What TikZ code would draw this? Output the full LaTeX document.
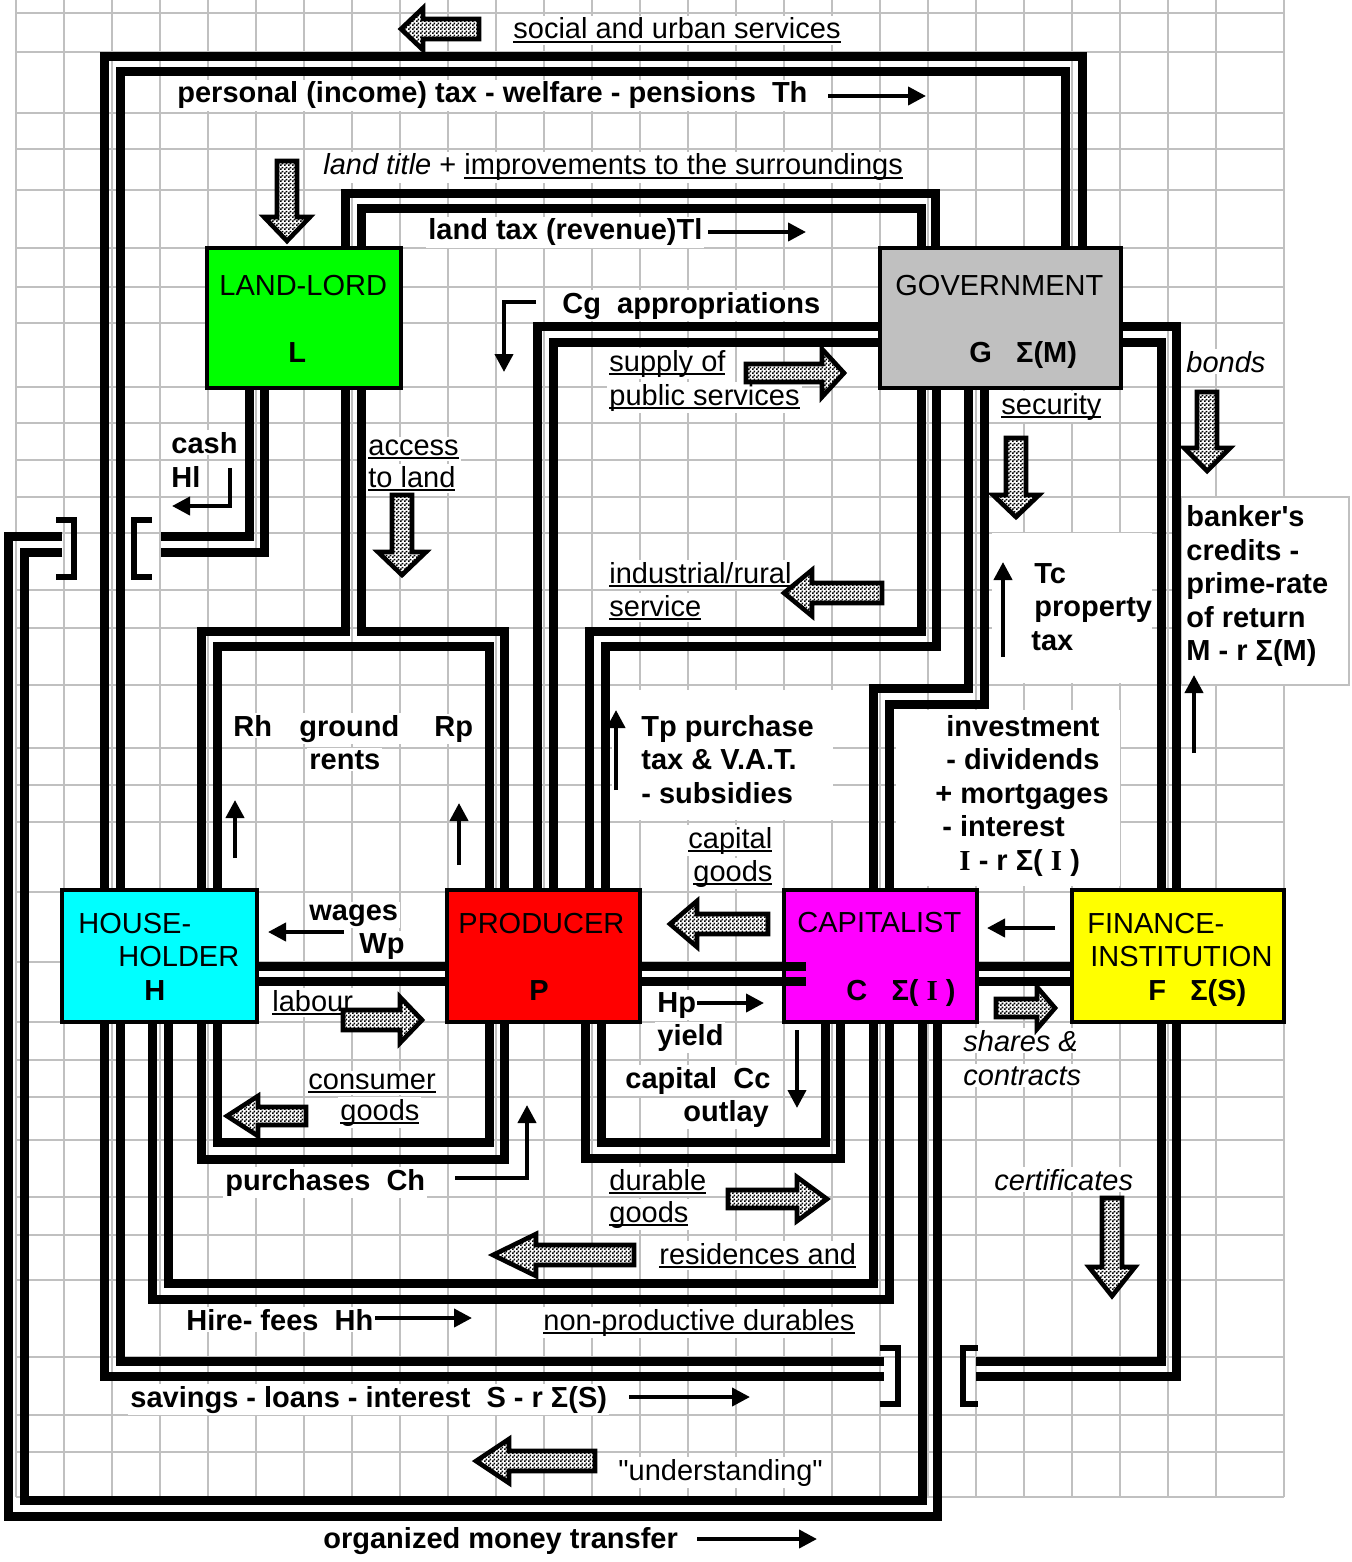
\documentclass[tikz,border=0pt]{standalone}
\usepackage{fontspec}
\setmainfont{Liberation Sans}
\newfontfamily\rawsans{Liberation Sans}
\newfontfamily\tnr{Liberation Serif}
\usetikzlibrary{arrows.meta,patterns,fit}
\newcommand\uline[1]{\setbox0\hbox{#1}\rlap{\rule[-2pt]{\wd0}{1pt}}\box0}
\definecolor{gridc}{RGB}{192,192,192}
\definecolor{cgreen}{RGB}{0,255,0}
\definecolor{cgray}{RGB}{192,192,192}
\definecolor{ccyan}{RGB}{0,255,255}
\definecolor{cred}{RGB}{255,0,0}
\definecolor{cmag}{RGB}{255,0,255}
\definecolor{cyel}{RGB}{255,255,0}
\pgfdeclarepatternformonly{finecheck}{\pgfqpoint{0pt}{0pt}}{\pgfqpoint{2pt}{2pt}}{\pgfqpoint{2pt}{2pt}}{%
 \pgfpathrectangle{\pgfqpoint{0pt}{0pt}}{\pgfqpoint{1pt}{1pt}}%
 \pgfpathrectangle{\pgfqpoint{1pt}{1pt}}{\pgfqpoint{1pt}{1pt}}%
 \pgfusepath{fill}}
\newcommand\fs{\fontsize{14.5}{16.9}\selectfont}
\begin{document}
\begin{tikzpicture}[x=0.5pt,y=-0.5pt,
 lbl/.style={anchor=base west, inner sep=1pt, fill=white, font=\fs},
 lblb/.style={lbl, font=\fs\bfseries},
 btx/.style={anchor=base west, inner sep=0pt, font=\fs},
 btxb/.style={btx, font=\fs\bfseries},
 chan/.style={line width=4.5pt, line join=miter},
 brk/.style={line width=3pt, line join=miter},
 box/.style={draw, line width=2pt, inner sep=0pt, outer sep=0pt},
 thin/.style={line width=2pt, line join=miter, -{Triangle[length=9pt,width=9pt]}},
 gridl/.style={draw=gridc, line width=1pt},
 barrowstyle/.style={draw, line width=2.3pt, line join=miter, preaction={fill=white}, pattern=finecheck},
 pics/barrow/.style n args={4}{code={\path[barrowstyle] (-#1,-#2) -- (-#3,-#2) -- (-#3,-#4) -- (0,0) -- (-#3,#4) -- (-#3,#2) -- (-#1,#2) -- cycle;}}
]
\useasboundingbox (0,0) rectangle (1351,1562);
\fill[white] (0,0) rectangle (1351,1562);
% grid
\foreach \yy in {13,52,113,149,190,248,287,323,387,423,460,497,533,590,628,685,748,785,822,892,962,1022,1060,1097,1140,1197,1235,1280,1357,1415,1452,1497}
  \path[gridl] (16,\yy) -- (1284,\yy);
\foreach \k in {0,...,25}
  \path[gridl] ({16+48*\k},0) -- ({16+48*\k},1497);
\path[gridl] (1284,0) -- (1284,1497);
% white text areas
\fill[white] (992,533) rectangle (1152,683);
\fill[white] (896,710) rectangle (1120,886);
\fill[white] (612,690) rectangle (833,820);
\node[draw=gridc, fill=white, line width=1pt, inner sep=0pt, outer sep=0pt, fit={(1181,497) (1349,685)}] (bankbox) {};

% boxes
\node[box, fill=cgreen, fit={(207,248) (401,388)}] (L) {};
\node[box, fill=cgray, fit={(880,248) (1121,388)}] (G) {};
\node[box, fill=ccyan, fit={(62,890) (257,1022)}] (H) {};
\node[box, fill=cred, fit={(447,890) (640,1022)}] (P) {};
\node[box, fill=cmag, fit={(784,890) (977,1022)}] (C) {};
\node[box, fill=cyel, fit={(1072,890) (1284,1022)}] (F) {};

% box texts
\node[btx] (Lt1) at (219,295) {LAND-LORD};
\node[btxb] (Lt2) at (288,362) {L};
\node[btx] (Gt1) at (895,295) {GOVERNMENT};
\node[btxb] (Gt2) at (969,362) {G~~~Σ(M)};
\node[btx] (Ht1) at (78,933) {HOUSE-};
\node[btx] (Ht2) at (118,966) {HOLDER};
\node[btxb] (Ht3) at (144,1000) {H};
\node[btx] (Pt1) at (458,933) {PRODUCER};
\node[btxb] (Pt2) at (529,1000) {P};
\node[btx] (Ct1) at (797,932) {CAPITALIST};
\node[btxb] (Ct2) at (846,1000) {C~~~Σ( {\tnr I} )};
\node[btx] (Ft1) at (1087,933) {FINANCE-};
\node[btx] (Ft2) at (1090,966) {INSTITUTION};
\node[btxb] (Ft3) at (1148,1000) {F~~~Σ(S)};

% labels
\node[lbl] (t1) at (511,39) {\uline{social and urban services}};
\node[lblb] (t2) at (175,103) {personal (income) tax - welfare - pensions~~Th};
\node[lbl] (t3) at (321,175) {\textit{land title} + \uline{improvements to the surroundings}};
\node[lblb] (t4) at (426,240) {land tax (revenue)Tl};
\node[lblb] (t5) at (560,313) {Cg~~appropriations};
\node[lbl] (t6) at (607,371) {\uline{supply of}};
\node[lbl] (t7) at (607,405) {\uline{public services}};
\node[lbl] (t8) at (999,414) {\uline{security}};
\node[lbl] (t9) at (1184,372) {\textit{bonds}};
\node[lblb] (t10) at (169,453) {cash};
\node[lblb] (t11) at (169,487) {Hl};
\node[lbl] (t12) at (366,455) {\uline{access}};
\node[lbl] (t13) at (366,487) {\uline{to land}};
\node[lbl] (t14) at (607,583) {\uline{industrial/rural}};
\node[lbl] (t15) at (607,616) {\uline{service}};
\node[lblb] (t16) at (1032,583) {Tc};
\node[lblb] (t17) at (1032,616) {property};
\node[lblb] (t18) at (1029,650) {tax};
\node[lblb] (t19) at (1184,526) {\rawsans\bfseries banker's};
\node[lblb] (t20) at (1184,560) {credits -};
\node[lblb] (t21) at (1184,593) {prime-rate};
\node[lblb] (t22) at (1184,627) {of return};
\node[lblb] (t23) at (1184,660) {M - r Σ(M)};
\node[lblb] (t24) at (231,736) {Rh};
\node[lblb] (t25) at (297,736) {ground};
\node[lblb] (t26) at (307,769) {rents};
\node[lblb] (t27) at (432,736) {Rp};
\node[lblb] (t28) at (639,736) {Tp purchase};
\node[lblb] (t29) at (639,769) {tax \& V.A.T.};
\node[lblb] (t30) at (639,803) {- subsidies};
\node[lblb] (t31) at (944,736) {investment};
\node[lblb] (t32) at (944,769) {- dividends};
\node[lblb] (t33) at (933,803) {+ mortgages};
\node[lblb] (t34) at (940,836) {- interest};
\node[lblb] (t35) at (957,870) {{\tnr I} - r Σ( {\tnr I} )};
\node[lbl] (t36) at (686,848) {\uline{capital}};
\node[lbl] (t37) at (691,881) {\uline{goods}};
\node[lblb] (t38) at (307,920) {wages};
\node[lblb] (t39) at (357,953) {Wp};
\node[lbl] (t40) at (270,1011) {\uline{labour}};
\node[lblb] (t41) at (655,1012) {Hp};
\node[lblb] (t42) at (655,1045) {yield};
\node[lblb] (t43) at (623,1088) {capital~~Cc};
\node[lblb] (t44) at (681,1121) {outlay};
\node[lbl] (t45) at (961,1051) {\textit{shares \&}};
\node[lbl] (t46) at (961,1085) {\textit{contracts}};
\node[lbl] (t47) at (306,1089) {\uline{consumer}};
\node[lbl] (t48) at (338,1120) {\uline{goods}};
\node[lblb] (t49) at (223,1190) {purchases~~Ch};
\node[lbl] (t50) at (607,1190) {\uline{durable}};
\node[lbl] (t51) at (607,1222) {\uline{goods}};
\node[lbl] (t52) at (992,1190) {\textit{certificates}};
\node[lbl] (t53) at (657,1264) {\uline{residences and}};
\node[lblb] (t54) at (184,1330) {Hire- fees~~Hh};
\node[lbl] (t55) at (541,1330) {\uline{non-productive durables}};
\node[lblb] (t56) at (128,1407) {savings - loans - interest~~S - r Σ(S)};
\node[lbl] (t57) at (616,1480) {\rawsans "understanding"};
\node[lblb] (t58) at (321,1548) {organized money transfer};

% free ends
\coordinate (mtA) at (62,536);
\coordinate (mtB) at (62,552);
\coordinate (cashA) at (161,536);
\coordinate (cashB) at (161,552);
\coordinate (svA) at (884,1376);
\coordinate (svB) at (884,1361);
\coordinate (svC) at (976,1361);
\coordinate (svD) at (976,1376);

% channels
\draw[chan] (H.north -| 104,0) -- (104,57) -- (1082,57) -- (G.north -| 1082,0);
\draw[chan] (H.north -| 120,0) -- (120,72) -- (1065,72) -- (G.north -| 1065,0);
\draw[chan] (L.north -| 345,0) -- (345,194) -- (935,194) -- (G.north -| 935,0);
\draw[chan] (L.north -| 361,0) -- (361,209) -- (921,209) -- (G.north -| 921,0);
\draw[chan] (G.west |- 0,326) -- (537,326) -- (P.north -| 537,0);
\draw[chan] (G.west |- 0,342) -- (553,342) -- (P.north -| 553,0);
\draw[chan] (G.south -| 921,0) -- (921,631) -- (589,631) -- (P.north -| 589,0);
\draw[chan] (G.south -| 936,0) -- (936,646) -- (605,646) -- (P.north -| 605,0);
\draw[chan] (G.south -| 968,0) -- (968,688) -- (873,688) -- (C.north -| 873,0);
\draw[chan] (G.south -| 984,0) -- (984,704) -- (889,704) -- (C.north -| 889,0);
\draw[chan] (G.east |- 0,326) -- (1176,326) -- (F.north -| 1176,0);
\draw[chan] (G.east |- 0,342) -- (1161,342) -- (F.north -| 1161,0);
\draw[chan] (H.north -| 201,0) -- (201,631) -- (345,631) -- (L.south -| 345,0);
\draw[chan] (L.south -| 361,0) -- (361,631) -- (504,631) -- (P.north -| 504,0);
\draw[chan] (H.north -| 217,0) -- (217,646) -- (489,646) -- (P.north -| 489,0);
\draw[chan] (L.south -| 249,0) -- (249,536) -- (cashA);
\draw[chan] (L.south -| 264,0) -- (264,552) -- (cashB);
\draw[chan] (mtA) -- (8,536) -- (8,1516) -- (937,1516) -- (C.south -| 937,0);
\draw[chan] (mtB) -- (24,552) -- (24,1500) -- (922,1500) -- (C.south -| 922,0);
\draw[chan] (H.south -| 104,0) -- (104,1376) -- (svA);
\draw[chan] (H.south -| 120,0) -- (120,1361) -- (svB);
\draw[chan] (svC) -- (1161,1361) -- (F.south -| 1161,0);
\draw[chan] (svD) -- (1176,1376) -- (F.south -| 1176,0);
\draw[chan] (H.south -| 152,0) -- (152,1299) -- (889,1299) -- (C.south -| 889,0);
\draw[chan] (H.south -| 168,0) -- (168,1283) -- (873,1283) -- (C.south -| 873,0);
\draw[chan] (H.south -| 201,0) -- (201,1159) -- (504,1159) -- (P.south -| 504,0);
\draw[chan] (H.south -| 217,0) -- (217,1142) -- (489,1142) -- (P.south -| 489,0);
\draw[chan] (P.south -| 585,0) -- (585,1158) -- (840,1158) -- (C.south -| 840,0);
\draw[chan] (P.south -| 601,0) -- (601,1142) -- (825,1142) -- (C.south -| 825,0);
\draw[chan] (H.east |- 0,966) -- (P.west |- 0,966);
\draw[chan] (H.east |- 0,981) -- (P.west |- 0,981);
\draw[chan] (P.east |- 0,966) -- (806,966);
\draw[chan] (P.east |- 0,981) -- (806,981);
\draw[chan] (C.east |- 0,966) -- (F.west |- 0,966);
\draw[chan] (C.east |- 0,981) -- (F.west |- 0,981);
% bridges
\draw[brk] (56,520) -- (74,520) -- (74,577) -- (56,577);
\draw[brk] (152,520) -- (134,520) -- (134,577) -- (152,577);
\draw[brk] (880,1348) -- (898,1348) -- (898,1404) -- (880,1404);
\draw[brk] (978,1348) -- (963,1348) -- (963,1404) -- (978,1404);

% thin arrows
\draw[thin] (828,96) -- (926,96);
\draw[thin] (708,232) -- (806,232);
\draw[thin] (536,302) -- (504,302) -- (504,372);
\draw[thin] (230,468) -- (230,506) -- (172,506);
\draw[thin] (235,858) -- (235,800);
\draw[thin] (459,865) -- (459,803);
\draw[thin] (616,790) -- (616,710);
\draw[thin] (1003,657) -- (1003,562);
\draw[thin] (1194,753) -- (1194,675);
\draw[thin] (344,932) -- (268,932);
\draw[thin] (1055,928) -- (987,928);
\draw[thin] (697,1003) -- (764,1003);
\draw[thin] (797,1030) -- (797,1108);
\draw[thin] (455,1178) -- (527,1178) -- (527,1105);
\draw[thin] (375,1318) -- (472,1318);
\draw[thin] (629,1397) -- (750,1397);
\draw[thin] (697,1539) -- (817,1539);

% block arrows
\pic[rotate=180] at (401,29) {barrow={78}{10}{22}{21}};
\pic[rotate=-90] at (287,241) {barrow={80}{10}{24}{23}};
\pic at (844,373) {barrow={98}{9}{22}{24}};
\pic[rotate=-90] at (402,575) {barrow={80}{10}{23}{24}};
\pic[rotate=180] at (784,593) {barrow={98}{10}{28}{23}};
\pic[rotate=-90] at (1016,517) {barrow={79}{10}{22}{23}};
\pic[rotate=-90] at (1207,471) {barrow={79}{10}{23}{23}};
\pic[rotate=180] at (670,924) {barrow={98}{10}{27}{23}};
\pic at (422,1020) {barrow={79}{10}{22}{23}};
\pic[rotate=180] at (227,1116) {barrow={79}{9}{31}{20}};
\pic at (1055,1008) {barrow={59}{9}{18}{21}};
\pic at (827,1199) {barrow={99}{9}{30}{22}};
\pic[rotate=180] at (493,1255) {barrow={141}{10}{43}{21}};
\pic[rotate=-90] at (1112,1296) {barrow={98}{10}{29}{23}};
\pic[rotate=180] at (476,1461) {barrow={119}{10}{33}{22}};
\end{tikzpicture}
\end{document}
